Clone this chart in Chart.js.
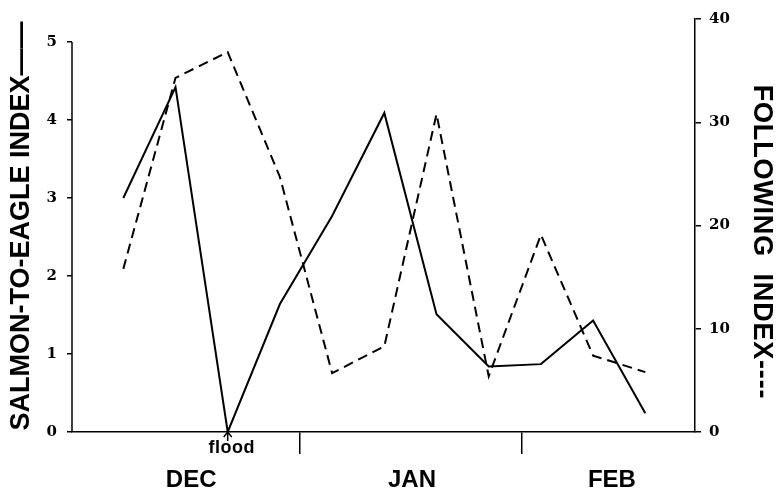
<!DOCTYPE html>
<html>
<head>
<meta charset="utf-8">
<script src="https://cdn.jsdelivr.net/npm/chart.js@4"></script>
<style>
  html, body { margin: 0; padding: 0; background: #fff; }
  canvas { display: block; }
</style>
</head>
<body>
<canvas id="c" width="776" height="491"></canvas>
<script>
// ---- data ----
const sampleIndex = [0, 1, 2, 3, 4, 5, 6, 7, 8, 9, 10];
const salmonToEagle = [3.0, 4.42, 0, 1.64, 2.77, 4.09, 1.51, 0.84, 0.87, 1.43, 0.24];
const followingIndex = [15.8, 34.3, 36.8, 24.7, 5.7, 8.3, 30.8, 5.4, 19.1, 7.4, 5.8];
const monthLabels = ['DEC', 'JAN', 'FEB'];
const monthCenters = [1.30, 5.53, 9.36];
const monthBoundaries = [3.385, 7.638];
const leftTicks = [0, 1, 2, 3, 4, 5];
const rightTicks = [0, 10, 20, 30, 40];
const floodIndex = 2;
const floodLabel = 'flood';
const leftTitle = 'SALMON-TO-EAGLE INDEX——';
const rightTitle = 'FOLLOWING  INDEX----';

const pts = (arr) => arr.map((v, i) => ({ x: sampleIndex[i], y: v }));

const decor = {
  id: 'decor',
  beforeDraw(chart) {
    const ctx = chart.ctx;
    ctx.save();
    ctx.fillStyle = '#fff';
    ctx.fillRect(0, 0, chart.width, chart.height);
    ctx.restore();
  },
  afterDraw(chart) {
    const ctx = chart.ctx;
    const xs = chart.scales.x, yl = chart.scales.y;
    ctx.save();
    ctx.strokeStyle = '#000';
    ctx.fillStyle = '#000';
    // left axis line from 0 to 5
    ctx.lineWidth = 1.5;
    ctx.beginPath();
    const lx = yl.right;
    ctx.moveTo(lx, yl.getPixelForValue(leftTicks[0]));
    ctx.lineTo(lx, yl.getPixelForValue(leftTicks[leftTicks.length - 1]));
    ctx.stroke();

    // month labels
    ctx.font = 'bold 24px "Liberation Sans", Arial, sans-serif';
    ctx.textAlign = 'center';
    ctx.textBaseline = 'alphabetic';
    monthLabels.forEach((m, i) => {
      ctx.fillText(m, xs.getPixelForValue(monthCenters[i]), 487);
    });

    // flood annotation
    const fx = xs.getPixelForValue(sampleIndex[floodIndex]);
    const fy = yl.getPixelForValue(0);
    ctx.lineWidth = 1.5;
    ctx.beginPath();
    ctx.moveTo(fx, fy);
    ctx.lineTo(fx, fy + 9);
    ctx.moveTo(fx - 4, fy + 5);
    ctx.lineTo(fx, fy);
    ctx.lineTo(fx + 4, fy + 5);
    ctx.stroke();
    ctx.font = 'bold 18px "Liberation Sans", Arial, sans-serif';
    try { ctx.letterSpacing = '0.5px'; } catch (e) {}
    ctx.fillText(floodLabel, fx + 4, 453);
    try { ctx.letterSpacing = '0px'; } catch (e) {}

    // axis titles
    ctx.font = 'bold 27px "Liberation Sans", Arial, sans-serif';
    ctx.textBaseline = 'middle';
    ctx.save();
    ctx.translate(22, 226);
    ctx.rotate(-Math.PI / 2);
    ctx.fillText(leftTitle, 0, 0);
    ctx.restore();
    ctx.save();
    try { ctx.letterSpacing = '0.8px'; } catch (e) {}
    ctx.translate(761, 242);
    ctx.rotate(Math.PI / 2);
    ctx.fillText(rightTitle, 0, 0);
    ctx.restore();
    ctx.restore();
  }
};

const tickFont = { family: '"DejaVu Serif", "Liberation Serif", serif', weight: 'bold', size: 15 };

new Chart(document.getElementById('c'), {
  type: 'line',
  data: {
    datasets: [
      {
        label: 'Salmon-to-eagle index',
        data: pts(salmonToEagle),
        yAxisID: 'y',
        borderColor: '#000',
        borderWidth: 2,
        pointRadius: 0,
        tension: 0,
        fill: false
      },
      {
        label: 'Following index',
        data: pts(followingIndex),
        yAxisID: 'y1',
        borderColor: '#000',
        borderWidth: 2,
        borderDash: [10, 6],
        pointRadius: 0,
        tension: 0,
        fill: false
      }
    ]
  },
  options: {
    responsive: false,
    animation: false,
    devicePixelRatio: 1,
    layout: { padding: { top: 18, left: 0, right: 0, bottom: 0 } },
    plugins: { legend: { display: false }, tooltip: { enabled: false } },
    scales: {
      x: {
        type: 'linear',
        min: -0.983,
        max: 10.952,
        afterBuildTicks: (s) => { s.ticks = monthBoundaries.map(v => ({ value: v })); },
        afterFit: (s) => { s.height = 59; },
        ticks: { display: false },
        grid: { drawOnChartArea: false, drawTicks: true, tickLength: 22, color: '#000', lineWidth: 1.5 },
        border: { display: true, color: '#000', width: 1.5 }
      },
      y: {
        type: 'linear',
        position: 'left',
        min: 0,
        max: 5 * 414 / 391,
        afterBuildTicks: (s) => { s.ticks = leftTicks.map(v => ({ value: v })); },
        afterFit: (s) => { s.width = 72; },
        ticks: { color: '#000', padding: 10, font: tickFont, callback: (v) => String(v) },
        grid: { drawOnChartArea: false, drawTicks: true, tickLength: 5, color: '#000', lineWidth: 1.5 },
        border: { display: false }
      },
      y1: {
        type: 'linear',
        position: 'right',
        min: 0,
        max: 40,
        afterBuildTicks: (s) => { s.ticks = rightTicks.map(v => ({ value: v })); },
        afterFit: (s) => { s.width = 81; },
        ticks: { color: '#000', padding: 8, font: tickFont, callback: (v) => String(v) },
        grid: { drawOnChartArea: false, drawTicks: true, tickLength: 6, color: '#000', lineWidth: 1.5 },
        border: { display: true, color: '#000', width: 1.5 }
      }
    }
  },
  plugins: [decor]
});
</script>
</body>
</html>
